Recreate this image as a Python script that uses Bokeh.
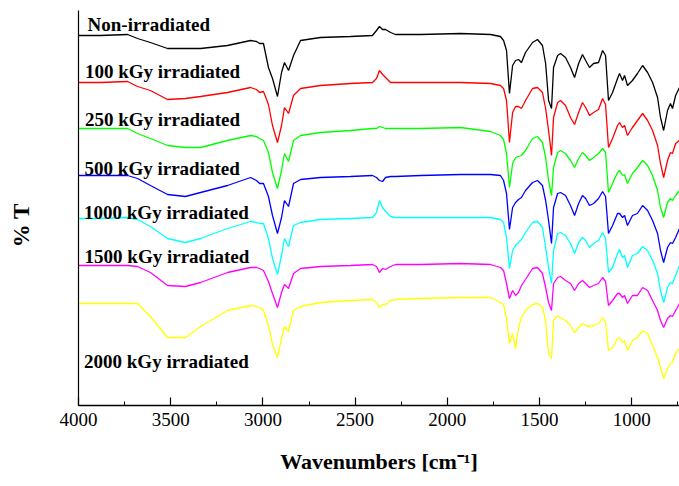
from bokeh.plotting import figure
from bokeh.models import Range1d, SingleIntervalTicker, FixedTicker
from bokeh.embed import file_html
from bokeh.resources import INLINE
from bokeh.core.properties import value

# Wavenumbers (cm^-1) at which the spectra were read
wavenumbers = [4000, 3881, 3734, 3680, 3610, 3517, 3420, 3338, 3192, 3067,
               3035, 3018, 2997, 2970, 2948, 2921, 2899, 2883, 2861, 2834,
               2796, 2688, 2525, 2406, 2384, 2368, 2351, 2335, 2308, 2281,
               2145, 1928, 1766, 1712, 1695, 1679, 1663, 1646, 1630, 1614,
               1598, 1576, 1538, 1511, 1484, 1467, 1451, 1435, 1424, 1402,
               1386, 1359, 1332, 1310, 1288, 1267, 1250, 1229, 1207, 1180,
               1158, 1142, 1126, 1104, 1077, 1066, 1050, 1039, 1023, 996,
               969, 941, 914, 887, 860, 844, 827, 806, 790, 779,
               762, 741]

# % T (stacked, arbitrary units)
t_non = [377, 377, 378, 374, 370, 364, 364, 364, 367, 372,
         371, 369, 369, 345, 334, 316, 340, 350, 342, 357,
         372, 375, 376, 377, 382, 386, 383, 383, 380, 378,
         378, 379, 378, 376, 372, 362, 319, 347, 352, 353,
         350, 360, 370, 373, 367, 349, 312, 304, 345, 357,
         359, 355, 345, 335, 349, 358, 352, 345, 349, 350,
         362, 357, 312, 320, 334, 339, 332, 337, 327, 332,
         339, 347, 340, 330, 315, 295, 282, 302, 309, 304,
         317, 325]
t_100 = [330, 330, 331, 326, 322, 313, 314, 316, 320, 325,
         323, 320, 321, 308, 287, 270, 287, 305, 299, 317,
         324, 327, 329, 330, 334, 342, 338, 335, 330, 330,
         330, 330, 329, 327, 324, 312, 270, 300, 306, 306,
         304, 312, 324, 325, 320, 304, 282, 257, 295, 310,
         312, 307, 295, 288, 300, 310, 305, 297, 300, 303,
         314, 308, 265, 274, 287, 290, 285, 287, 277, 285,
         292, 299, 292, 282, 267, 249, 235, 252, 260, 259,
         269, 272]
t_250 = [284, 284, 284, 279, 274, 267, 265, 265, 272, 277,
         276, 274, 272, 260, 240, 224, 242, 259, 251, 272,
         277, 280, 282, 284, 284, 286, 285, 284, 284, 284,
         284, 285, 281, 277, 273, 259, 225, 249, 255, 256,
         257, 262, 274, 276, 270, 255, 232, 217, 245, 260,
         262, 259, 252, 245, 254, 260, 257, 252, 255, 259,
         264, 260, 220, 229, 240, 242, 237, 238, 229, 239,
         245, 252, 247, 237, 222, 205, 195, 210, 214, 212,
         217, 222]
t_500 = [237, 237, 237, 234, 227, 218, 216, 220, 227, 235,
         232, 229, 229, 216, 197, 179, 195, 212, 206, 229,
         233, 235, 236, 237, 235, 232, 231, 235, 236, 236,
         237, 238, 238, 237, 232, 219, 183, 205, 210, 213,
         215, 222, 230, 232, 227, 212, 192, 169, 205, 219,
         220, 217, 207, 197, 209, 217, 214, 207, 209, 214,
         221, 216, 179, 187, 199, 199, 195, 197, 187, 197,
         199, 207, 202, 192, 179, 162, 150, 165, 170, 169,
         175, 184]
t_1000 = [194, 194, 195, 193, 186, 174, 170, 174, 184, 191,
          190, 189, 189, 174, 154, 138, 157, 174, 166, 187,
          190, 193, 194, 195, 200, 212, 205, 201, 196, 195,
          195, 195, 195, 193, 190, 175, 144, 162, 167, 170,
          173, 180, 190, 191, 185, 165, 145, 129, 162, 179,
          180, 177, 169, 159, 170, 175, 172, 165, 169, 172,
          180, 174, 140, 145, 159, 163, 155, 157, 145, 157,
          159, 166, 162, 152, 139, 122, 110, 125, 130, 129,
          137, 147]
t_1500 = [147, 147, 147, 146, 140, 127, 126, 130, 140, 145,
          145, 144, 142, 131, 119, 105, 120, 128, 124, 139,
          144, 146, 147, 148, 146, 140, 144, 143, 146, 148,
          148, 149, 148, 145, 142, 129, 114, 122, 117, 120,
          127, 133, 144, 145, 139, 125, 110, 102, 129, 135,
          136, 132, 129, 122, 129, 132, 129, 125, 127, 129,
          135, 131, 107, 112, 119, 119, 115, 117, 109, 117,
          117, 125, 122, 112, 102, 92, 85, 94, 97, 96,
          102, 109]
t_2000 = [109, 109, 109, 109, 96, 75, 75, 86, 102, 107,
          106, 105, 102, 87, 68, 55, 74, 86, 81, 102,
          106, 110, 112, 113, 110, 105, 108, 108, 112, 113,
          114, 115, 115, 110, 108, 94, 69, 79, 64, 85,
          95, 102, 108, 109, 105, 92, 59, 54, 92, 97,
          95, 92, 87, 80, 85, 89, 87, 86, 87, 89,
          95, 90, 62, 65, 74, 75, 70, 72, 62, 72,
          75, 82, 79, 67, 55, 45, 34, 44, 49, 50,
          59, 64]

series_names = ["Non-irradiated", "100 kGy irradiated", "250 kGy irradiated",
                "500 kGy irradiated", "1000 kGy irradiated", "1500 kGy irradiated",
                "2000 kGy irradiated"]
series_values = [t_non, t_100, t_250, t_500, t_1000, t_1500, t_2000]
series_colors = ["#000000", "#ff0000", "#00ff00", "#0000ff", "#00ffff", "#ff00ff", "#ffff00"]

# label anchor positions (layout)
label_x = [3951, 3965, 3965, 3967, 3970, 3967, 3970]
label_y = [388, 341, 293, 244, 200, 156, 51]

p = figure(width=679, height=486, x_range=Range1d(4000, 741), y_range=Range1d(7, 402),
           output_backend="svg", toolbar_location=None,
           min_border_left=78, min_border_right=0, min_border_top=10, min_border_bottom=81)
p.outline_line_color = None
p.xgrid.visible = False
p.ygrid.visible = False
p.background_fill_color = "white"
p.border_fill_color = "white"

for vals, col in zip(series_values, series_colors):
    assert len(vals) == len(wavenumbers)
    p.line(wavenumbers, vals, line_color=col, line_width=1.3)

p.text(x=label_x, y=label_y, text=series_names, text_font=value("Liberation Serif"),
       text_font_style="bold", text_font_size="19px", text_baseline="alphabetic",
       text_align="left", text_color="black")

xa = p.xaxis[0]
xa.ticker = SingleIntervalTicker(interval=500, num_minor_ticks=2)
xa.axis_line_color = "black"
xa.axis_line_width = 1.5
xa.major_tick_in = 8
xa.major_tick_out = 0
xa.minor_tick_in = 4
xa.minor_tick_out = 0
xa.major_tick_line_color = "black"
xa.minor_tick_line_color = "black"
xa.major_tick_line_width = 1.2
xa.major_label_text_font = "Liberation Serif"
xa.major_label_text_font_size = "19px"
xa.major_label_text_color = "black"
xa.major_label_standoff = 7
xa.axis_label = "Wavenumbers [cm\u207b\u00b9]"
xa.axis_label_text_font = "Liberation Serif"
xa.axis_label_text_font_style = "bold"
xa.axis_label_text_font_size = "22px"
xa.axis_label_text_color = "black"
xa.axis_label_standoff = 20

ya = p.yaxis[0]
ya.ticker = FixedTicker(ticks=[])
ya.axis_line_color = "black"
ya.axis_line_width = 1.2
ya.major_tick_line_color = None
ya.minor_tick_line_color = None
ya.major_label_text_font_size = "0px"
ya.axis_label = "% T" + "\u00a0" * 6
ya.axis_label_text_font = "Liberation Serif"
ya.axis_label_text_font_style = "bold"
ya.axis_label_text_font_size = "23px"
ya.axis_label_text_color = "black"
ya.axis_label_standoff = 45

open("out.html", "w").write(file_html(p, INLINE))
